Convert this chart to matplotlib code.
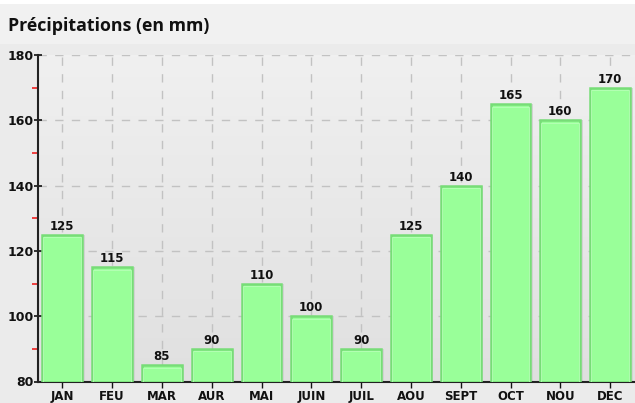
import matplotlib
matplotlib.use("Agg")
import matplotlib.pyplot as plt
import numpy as np
from matplotlib.ticker import MultipleLocator

months = ["JAN", "FEU", "MAR", "AUR", "MAI", "JUIN", "JUIL", "AOU", "SEPT", "OCT", "NOU", "DEC"]
values = [125, 115, 85, 90, 110, 100, 90, 125, 140, 165, 160, 170]
title = "Précipitations (en mm)"

W, H = 635, 403
fig = plt.figure(figsize=(W / 100, H / 100), dpi=100)
fig.patch.set_facecolor("#ebebeb")

# title band
fig.patches.append(plt.Rectangle((0, 1 - 44 / H), 1, 44 / H - 4 / H, transform=fig.transFigure,
                                 facecolor="#f1f1f1", edgecolor="none", zorder=0))
fig.patches.append(plt.Rectangle((0, 1 - 4 / H), 1, 4 / H, transform=fig.transFigure,
                                 facecolor="#ffffff", edgecolor="none", zorder=0))
fig.text(8 / W, 1 - 31 / H, title, fontsize=12.8, fontweight="bold", family=["Open Sans", "DejaVu Sans"],
         va="baseline", ha="left", color="#111111")

left, right = 37.5, 635
top, bottom = 55, 381.5
ax = fig.add_axes([left / W, 1 - bottom / H, (right - left) / W, (bottom - top) / H])
ax.set_xlim(-0.5, 11.5)
ax.set_ylim(80, 180)
ax.set_facecolor("#e9e9e9")

# gradient background
grad = np.linspace(0, 1, 100).reshape(-1, 1)
ax.imshow(grad, extent=(-0.5, 11.5, 80, 180), aspect="auto", origin="lower",
          cmap=matplotlib.colors.LinearSegmentedColormap.from_list("g", ["#e0e0e0", "#f0f0f0"]),
          zorder=0)

x = np.arange(len(months))
# grid
for yv in range(100, 181, 20):
    ax.axhline(yv, color="#c2c2c2", lw=1, ls=(0, (6, 6)), zorder=1)
for xv in x:
    ax.axvline(xv, color="#c2c2c2", lw=1, ls=(0, (6, 6)), zorder=1)

# shadow
ax.bar(x + 0.05, np.array(values) - 80, bottom=80, width=0.8, color="#d2d2d2", edgecolor="none", zorder=2)
bars = ax.bar(x, np.array(values) - 80, bottom=80, width=0.8, color="#99ff99", edgecolor="#77dd77",
              linewidth=1.8, zorder=3)
ax.bar(x, np.array(values) - 80 - 0.8, bottom=80, width=0.76, color="none", edgecolor="#b8ffb8",
       linewidth=0.6, zorder=4)

for xi, v in zip(x, values):
    ax.text(xi, v + 0.6, str(v), ha="center", va="bottom", fontsize=8.5, fontweight="bold",
            color="#111111", zorder=5)

ax.set_xticks(x)
ax.set_xticklabels(months, fontsize=8.5, fontweight="bold")
ax.yaxis.set_major_locator(MultipleLocator(20))
ax.yaxis.set_minor_locator(MultipleLocator(10))
ax.tick_params(axis="y", which="major", length=6, width=1.2, direction="inout", labelsize=9, pad=0, colors="#111111")
ax.tick_params(axis="y", which="minor", length=4, width=1.2, direction="out", color="#ee2222")
ax.tick_params(axis="x", which="major", length=4, width=1, direction="out", pad=2, colors="#111111")
for lab in ax.get_yticklabels():
    lab.set_fontweight("bold")

for s in ["top", "right"]:
    ax.spines[s].set_visible(False)
ax.spines["left"].set_linewidth(1.5)
ax.spines["bottom"].set_linewidth(1.5)
ax.spines["left"].set_color("#222222")
ax.spines["bottom"].set_color("#222222")

fig.savefig("out.png", dpi=100, facecolor=fig.get_facecolor())
